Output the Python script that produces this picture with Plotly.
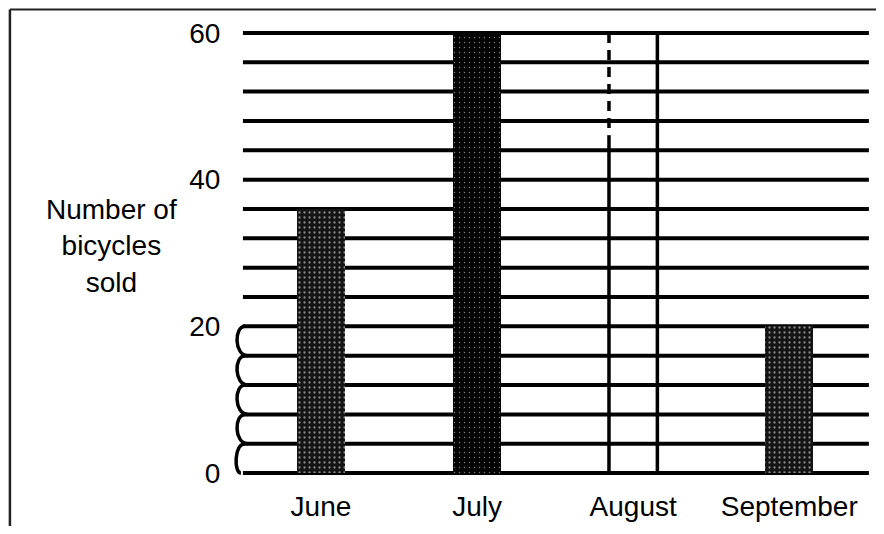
import plotly.graph_objects as go

# ---- data ----
months = ["June", "July", "August", "September"]
bicycles_sold = [36, 60, None, 20]          # August bar left blank (to be completed)
august_outline_height = 60                  # dashed outline drawn for August
august_dash_above = 46                      # left edge of outline dashed above this value
y_tick_labels = [0, 20, 40, 60]
grid_values = list(range(0, 61, 4))
axis_break_top = 20

bar_width = 0.31
x_pos = list(range(len(months)))

fig = go.Figure()

# shaded bars
bar_x = [x for x, v in zip(x_pos, bicycles_sold) if v is not None]
bar_y = [v for v in bicycles_sold if v is not None]
bar_bg = ["#141414", "#030303", "#141414"]
bar_sol = [0.16, 0.06, 0.16]
for x, y, bg, sol in zip(bar_x, bar_y, bar_bg, bar_sol):
    fig.add_trace(go.Bar(
        x=[x], y=[y], width=bar_width,
        marker=dict(color=bg, line=dict(width=0),
                    pattern=dict(shape=".", fgcolor="#ffffff", bgcolor=bg,
                                 size=5, solidity=sol)),
        hoverinfo="skip", showlegend=False))

# dashed outline for August
ai = months.index("August")
xl = x_pos[ai] - bar_width / 2
xr = x_pos[ai] + bar_width / 2
fig.add_trace(go.Scatter(x=[xl, xl], y=[august_outline_height, august_dash_above],
                         mode="lines", line=dict(color="black", width=3.5, dash="10px,7px"),
                         hoverinfo="skip", showlegend=False))
fig.add_trace(go.Scatter(x=[xl, xl], y=[august_dash_above, 0],
                         mode="lines", line=dict(color="black", width=3.5),
                         hoverinfo="skip", showlegend=False))
fig.add_trace(go.Scatter(x=[xr, xr], y=[0, august_outline_height],
                         mode="lines", line=dict(color="black", width=3.5),
                         hoverinfo="skip", showlegend=False))

shapes = []
# horizontal grid lines
for g in grid_values:
    shapes.append(dict(type="line", xref="x", yref="y", x0=-0.5, x1=3.51, y0=g, y1=g,
                       line=dict(color="black", width=4), layer="below"))

# axis break squiggles (scalloped edge from 0 to 20)
px_unit = 156.0
xa = -0.5 + 2 / px_unit
xc = -0.5 - 9 / px_unit
xb = -0.5 + 5 / px_unit
breaks = [g for g in grid_values if g < axis_break_top]
for g in breaks:
    top = g + 4
    bot = g
    end_x = xb if g > 0 else -0.5 - 2 / px_unit
    path = f"M {xa},{top} C {xc},{top} {xc},{bot} {end_x},{bot}"
    shapes.append(dict(type="path", xref="x", yref="y", path=path,
                       line=dict(color="black", width=3.5), layer="above"))

# scan border lines (page frame)
shapes.append(dict(type="line", xref="paper", yref="paper", x0=-0.347, x1=1.03,
                   y0=1.046, y1=1.046, line=dict(color="#222", width=2)))
shapes.append(dict(type="line", xref="paper", yref="paper", x0=-0.347, x1=-0.347,
                   y0=1.046, y1=-0.14, line=dict(color="#222", width=2.5)))

font_family = "Liberation Sans, Arial, sans-serif"

# page is rendered with an 8px body margin, so the figure is offset accordingly
fig.update_layout(
    width=868, height=518,
    margin=dict(l=224, r=4, t=22, b=50),
    paper_bgcolor="white", plot_bgcolor="white",
    font=dict(family=font_family, size=28, color="black"),
    shapes=shapes,
    bargap=0,
    annotations=[dict(text="Number of<br>bicycles<br>sold", xref="paper", yref="paper",
                      x=-0.1878, y=0.515, xanchor="center", yanchor="middle",
                      showarrow=False, align="center",
                      font=dict(family=font_family, size=28, color="black"))],
)
fig.update_xaxes(range=[-0.57, 3.53], tickvals=x_pos, ticktext=months,
                 showgrid=False, zeroline=False, showline=False,
                 ticks="outside", ticklen=5, tickcolor="rgba(0,0,0,0)",
                 tickfont=dict(size=28))
fig.update_yaxes(range=[-0.4, 60.4], tickvals=y_tick_labels,
                 showgrid=False, zeroline=False, showline=False,
                 ticks="outside", ticklen=5, tickcolor="rgba(0,0,0,0)",
                 tickfont=dict(size=28))

fig.write_html("out.html")
